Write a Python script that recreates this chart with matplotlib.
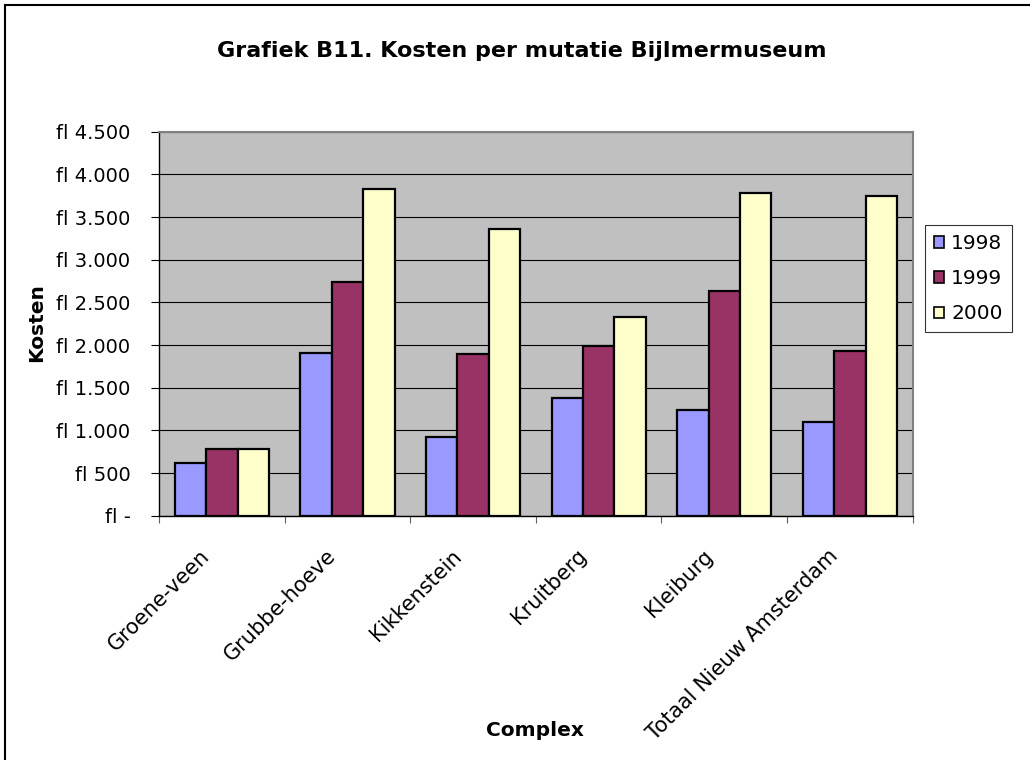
import matplotlib
matplotlib.use("Agg")
import matplotlib.pyplot as plt
import matplotlib.transforms as mtransforms
import numpy as np
from matplotlib.patches import Rectangle
from matplotlib.lines import Line2D
from matplotlib.ticker import FuncFormatter, MultipleLocator

plt.rcParams['font.family'] = ['DejaVu Sans']

complexes = ["Groene-veen", "Grubbe-hoeve", "Kikkenstein", "Kruitberg",
             "Kleiburg", "Totaal Nieuw Amsterdam"]
years = ["1998", "1999", "2000"]
kosten_1998 = [620, 1910, 920, 1380, 1235, 1095]
kosten_1999 = [778, 2740, 1890, 1990, 2637, 1935]
kosten_2000 = [778, 3825, 3360, 2332, 3778, 3747]
series = [kosten_1998, kosten_1999, kosten_2000]
colors = ["#9999FF", "#993366", "#FFFFCC"]

fig = plt.figure(figsize=(10.3, 7.6), dpi=100)
ax = fig.add_axes([159 / 1030, 1 - 515.7 / 760, (912.7 - 159) / 1030, (515.7 - 131.7) / 760])
ax.set_facecolor("#C0C0C0")

x = np.arange(len(complexes))
width = 0.25
for i, (vals, col) in enumerate(zip(series, colors)):
    ax.bar(x + (i - 1) * width, vals, width, color=col, edgecolor="black",
           linewidth=1.6, zorder=3, label=years[i])

ax.set_xlim(-0.5, len(complexes) - 0.5)
ax.set_ylim(0, 4500)

ax.yaxis.set_major_locator(MultipleLocator(500))

def fmt(v, pos):
    if v == 0:
        return "fl -"
    return "fl " + f"{int(v):,}".replace(",", ".")

ax.yaxis.set_major_formatter(FuncFormatter(fmt))
ax.grid(axis="y", color="black", linewidth=0.8, zorder=1)
ax.set_axisbelow(True)

ax.tick_params(axis="y", direction="out", length=5.5, width=0.8, pad=15,
               labelsize=14, color="black")
ax.set_xticks(np.arange(-0.5, len(complexes) + 0.5, 1.0))
ax.set_xticklabels([])
ax.tick_params(axis="x", direction="out", length=5, width=0.8, color="#606060")

for s in ["left", "bottom"]:
    ax.spines[s].set_color("black")
    ax.spines[s].set_linewidth(1.0)
for s in ["top", "right"]:
    ax.spines[s].set_color("#808080")
    ax.spines[s].set_linewidth(1.5)

# rotated category labels
offset = mtransforms.ScaledTranslation(-22 / 100, -30 / 100, fig.dpi_scale_trans)
trans = mtransforms.blended_transform_factory(ax.transData, ax.transAxes) + offset
for xi, name in zip(x, complexes):
    ax.text(xi, 0, name, rotation=45, ha="right", va="top",
            rotation_mode="anchor", fontsize=15, transform=trans)

fig.text(37 / 1030, 1 - 323 / 760, "Kosten", rotation=90, fontsize=14.5,
         fontweight="bold", ha="center", va="center")
fig.text(535 / 1030, 1 - 730 / 760, "Complex", fontsize=14.5,
         fontweight="bold", ha="center", va="center")
fig.text(522 / 1030, 1 - 51 / 760,
         "Grafiek B11. Kosten per mutatie Bijlmermuseum", fontsize=16,
         fontweight="bold", ha="center", va="center")

handles = [Rectangle((0, 0), 1, 1, facecolor=c, edgecolor="black", linewidth=1.2)
           for c in colors]
leg = fig.legend(handles, years, loc="center left",
                 bbox_to_anchor=(925 / 1030, 1 - 278.8 / 760),
                 fontsize=14.5, frameon=True, fancybox=False,
                 handlelength=0.5, handleheight=0.5, handletextpad=0.35,
                 labelspacing=0.8, borderpad=0.45, borderaxespad=0)
leg.get_frame().set_edgecolor("black")
leg.get_frame().set_linewidth(0.8)

# outer chart frame (top and left edges)
fig.add_artist(Line2D([4.5 / 1030, 1.0], [1 - 4.5 / 760, 1 - 4.5 / 760],
                      transform=fig.transFigure, color="black", linewidth=1.5))
fig.add_artist(Line2D([4.5 / 1030, 4.5 / 1030], [0.0, 1 - 4.5 / 760],
                      transform=fig.transFigure, color="black", linewidth=1.5))

fig.savefig("out.png", dpi=100, facecolor="white")
